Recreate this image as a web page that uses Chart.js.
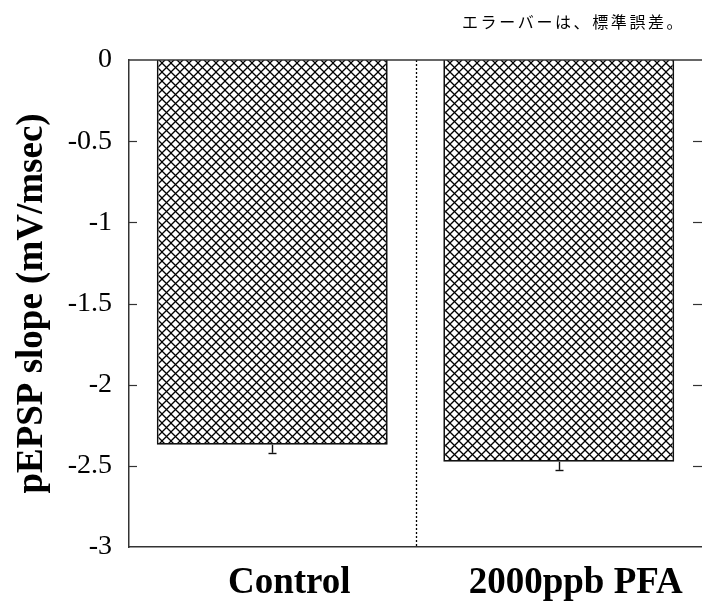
<!DOCTYPE html>
<html>
<head>
<meta charset="utf-8">
<script src="https://cdn.jsdelivr.net/npm/chart.js@4/dist/chart.umd.min.js"></script>
<style>
html,body{margin:0;padding:0;background:#fff;}
#wrap{width:702px;height:606px;position:relative;}
</style>
</head>
<body>
<div id="wrap"><canvas id="c" width="702" height="606"></canvas></div>
<script>
const categories = ['Control', '2000ppb PFA'];
const values = [-2.37, -2.475];
const errors = [0.05, 0.05];
const yTicks = [0, -0.5, -1, -1.5, -2, -2.5, -3];
const yTickLabels = ['0', '-0.5', '-1', '-1.5', '-2', '-2.5', '-3'];
const yTitle = 'pEPSP slope (mV/msec)';
const note = 'エラーバーは、標準誤差。';

function makePattern() {
  const s = 9;
  const pc = document.createElement('canvas');
  pc.width = s; pc.height = s;
  const p = pc.getContext('2d');
  p.fillStyle = '#fff';
  p.fillRect(0, 0, s, s);
  p.strokeStyle = '#000';
  p.lineWidth = 1.25;
  for (const o of [-s, 0, s]) {
    p.beginPath(); p.moveTo(o, 0); p.lineTo(o + s, s); p.stroke();
    p.beginPath(); p.moveTo(o + s, 0); p.lineTo(o, s); p.stroke();
  }
  return p.createPattern(pc, 'repeat');
}

const ctx = document.getElementById('c').getContext('2d');
const hatch = makePattern();

const framePlugin = {
  id: 'frame',
  beforeDatasetsDraw(chart) {
    const c = chart.ctx;
    const a = chart.chartArea;
    const x = chart.scales.x;
    c.save();
    // dotted divider between categories
    const dx = Math.round(x.getPixelForValue(0.5)) + 0.5;
    c.strokeStyle = '#000';
    c.lineWidth = 1.3;
    c.setLineDash([2, 2]);
    c.beginPath(); c.moveTo(dx, a.top); c.lineTo(dx, a.bottom); c.stroke();
    c.restore();
  },
  afterDraw(chart) {
    const c = chart.ctx;
    const a = chart.chartArea;
    const y = chart.scales.y;
    c.save();
    // top line
    c.strokeStyle = '#333';
    c.lineWidth = 1.5;
    c.beginPath(); c.moveTo(a.left, a.top); c.lineTo(a.right, a.top); c.stroke();
    // inward ticks
    c.lineWidth = 1.2;
    yTicks.forEach(v => {
      if (v === 0 || v === -3) return;
      const py = Math.round(y.getPixelForValue(v)) + 0.5;
      c.beginPath(); c.moveTo(a.left, py); c.lineTo(a.left + 8, py); c.stroke();
      c.beginPath(); c.moveTo(a.right - 9, py); c.lineTo(a.right, py); c.stroke();
    });
    // note
    c.fillStyle = '#000';
    c.font = '16px "Noto Sans CJK JP"';
    c.textBaseline = 'middle';
    c.textAlign = 'left';
    try { c.letterSpacing = '2.6px'; } catch (e) {}
    c.fillText(note, 462, 22);
    c.restore();
  },
  afterDatasetsDraw(chart) {
    const c = chart.ctx;
    const meta = chart.getDatasetMeta(0);
    const y = chart.scales.y;
    c.save();
    c.strokeStyle = '#111';
    c.lineWidth = 1.4;
    meta.data.forEach((bar, i) => {
      const x = Math.round(bar.x) + 0.5;
      const y0 = y.getPixelForValue(values[i]);
      const y1 = y.getPixelForValue(values[i] - errors[i]);
      c.beginPath(); c.moveTo(x, y0); c.lineTo(x, y1); c.stroke();
      c.beginPath(); c.moveTo(x - 4, Math.round(y1) + 0.5); c.lineTo(x + 4, Math.round(y1) + 0.5); c.stroke();
    });
    c.restore();
  }
};

new Chart(ctx, {
  type: 'bar',
  data: {
    labels: categories,
    datasets: [{
      data: values,
      backgroundColor: hatch,
      borderColor: '#111',
      borderWidth: 1.8,
      categoryPercentage: 1.0,
      barPercentage: 0.806
    }]
  },
  options: {
    responsive: false,
    animation: false,
    layout: { padding: { top: 60, left: 0, right: 0, bottom: 0 } },
    plugins: { legend: { display: false }, tooltip: { enabled: false } },
    scales: {
      x: {
        afterFit(s) { s.height = 59; },
        grid: { display: false, drawTicks: false },
        border: { display: true, color: '#333', width: 1.5 },
        ticks: {
          color: '#000',
          padding: 14,
          labelOffset: 17,
          font: { family: '"Liberation Serif"', size: 37, weight: 'bold' }
        }
      },
      y: {
        min: -3,
        max: 0,
        afterFit(s) { s.width = 129; },
        afterBuildTicks(s) { s.ticks = yTicks.map(v => ({ value: v })); },
        grid: { display: false, drawTicks: false },
        border: { display: true, color: '#333', width: 1.5 },
        ticks: {
          color: '#000',
          padding: 17,
          font: { family: '"Liberation Serif"', size: 28 },
          callback: (v) => yTickLabels[yTicks.indexOf(v)]
        },
        title: {
          display: true,
          text: yTitle,
          color: '#000',
          padding: { top: 10, bottom: 0 },
          font: { family: '"Liberation Serif"', size: 37, weight: 'bold' }
        }
      }
    }
  },
  plugins: [framePlugin]
});
</script>
</body>
</html>
